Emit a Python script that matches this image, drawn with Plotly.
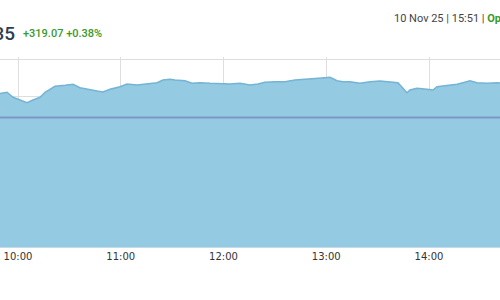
import plotly.graph_objects as go

# --- data ---
times = [
    "09:15:00", "09:30:00", "09:43:39", "09:49:29", "09:53:35", "09:57:05", "10:01:10", "10:05:15",
    "10:08:45", "10:12:51", "10:15:46", "10:18:41", "10:21:36", "10:27:27", "10:32:07",
    "10:36:12", "10:40:17", "10:46:08", "10:49:38", "10:53:43", "10:59:34", "11:03:39",
    "11:09:29", "11:15:19", "11:21:10", "11:24:40", "11:28:45", "11:31:40", "11:37:31",
    "11:41:36", "11:46:16", "11:52:07", "11:57:57", "12:03:47", "12:09:38", "12:15:28",
    "12:20:08", "12:24:13", "12:30:04", "12:35:54", "12:41:44", "12:47:35", "12:53:25",
    "12:59:16", "13:02:11", "13:06:16", "13:09:46", "13:13:51", "13:19:41", "13:25:32",
    "13:31:22", "13:37:13", "13:41:53", "13:44:48", "13:47:08", "13:48:53", "13:52:59",
    "13:58:49", "14:02:19", "14:04:39", "14:10:29", "14:16:20", "14:19:50", "14:23:55",
    "14:28:01", "14:33:51", "14:39:41", "14:44:22", "15:00:00", "15:30:00",
]
prices = [
    83300.0, 83450.0, 83517.8, 83540.6, 83554.0, 83487.0, 83450.8, 83414.6,
    83450.8, 83487.0, 83554.0, 83598.2, 83634.4, 83647.8, 83661.2,
    83615.6, 83594.2, 83571.4, 83558.0, 83594.2, 83629.0, 83665.2,
    83651.8, 83665.2, 83682.6, 83718.8, 83728.2, 83718.8, 83709.4,
    83674.6, 83682.6, 83674.6, 83665.2, 83665.2, 83674.6, 83651.8,
    83665.2, 83688.0, 83696.0, 83696.0, 83718.8, 83732.2, 83741.6,
    83749.6, 83755.0, 83709.4, 83696.0, 83696.0, 83674.6, 83696.0,
    83705.4, 83696.0, 83682.6, 83607.6, 83548.6, 83584.8, 83607.6,
    83594.2, 83584.8, 83629.0, 83642.4, 83661.2, 83682.6, 83709.4,
    83682.6, 83674.6, 83682.6, 83671.9, 83650.0, 83535.35,
]
prev_close = 83216.28
last_value = "83,535.35"
change_text = "+319.07 +0.38%"
stamp_text = "10 Nov 25 | 15:51 | "
status_text = "Open"
tick_labels = ["10:00", "11:00", "12:00", "13:00", "14:00"]

day = "2025-11-10 "
xs = [day + t for t in times]

fig = go.Figure()
fig.add_trace(go.Scatter(
    x=xs, y=prices, mode="lines",
    line=dict(color="#74b4d4", width=1.5),
    fill="tozeroy", fillcolor="#94cae2",
    hoverinfo="skip", showlegend=False,
))
fig.add_trace(go.Scatter(
    x=[day + "09:15:00", day + "15:30:00"], y=[prev_close, prev_close], mode="lines",
    line=dict(color="#7f98c0", width=2),
    hoverinfo="skip", showlegend=False,
))

plot_top, plot_bottom = 57, 247
ph = plot_bottom - plot_top

def py(pix):
    return (plot_bottom - pix) / ph

fig.update_layout(
    width=500, height=300,
    margin=dict(l=0, r=0, t=plot_top, b=300 - plot_bottom),
    paper_bgcolor="white", plot_bgcolor="white",
    xaxis=dict(
        type="date",
        range=[day + "09:49:29", day + "14:41:27"],
        tickvals=[day + t + ":00" for t in tick_labels],
        ticktext=tick_labels,
        showgrid=True, gridcolor="#dedede", gridwidth=1,
        showline=True, linecolor="#c6dbe8", linewidth=1,
        ticks="", tickfont=dict(family="DejaVu Sans", size=10, color="#333333"),
        zeroline=False,
    ),
    yaxis=dict(
        range=[81480.98, 84026.8],
        tick0=84000, dtick=500,
        showgrid=True, gridcolor="#dedede", gridwidth=1,
        showticklabels=False, zeroline=False, ticks="",
    ),
)

fig.add_annotation(
    xref="paper", yref="paper", x=17 / 500, y=py(33), xanchor="right", yanchor="middle",
    text=last_value, showarrow=False,
    font=dict(family="Roboto", size=19, color="#2c3e50", weight=500),
)
fig.add_annotation(
    xref="paper", yref="paper", x=21 / 500, y=py(33), xanchor="left", yanchor="middle",
    text=change_text, showarrow=False,
    font=dict(family="Roboto", size=11, color="#3a9a2a", weight=500),
)
fig.add_annotation(
    xref="paper", yref="paper", x=392 / 500, y=py(18), xanchor="left", yanchor="middle",
    text=stamp_text + "<b><span style='color:#3a9a2a'>" + status_text + "</span></b>",
    showarrow=False,
    font=dict(family="Roboto", size=11, color="#444444"),
)

fig.write_html("out.html")
